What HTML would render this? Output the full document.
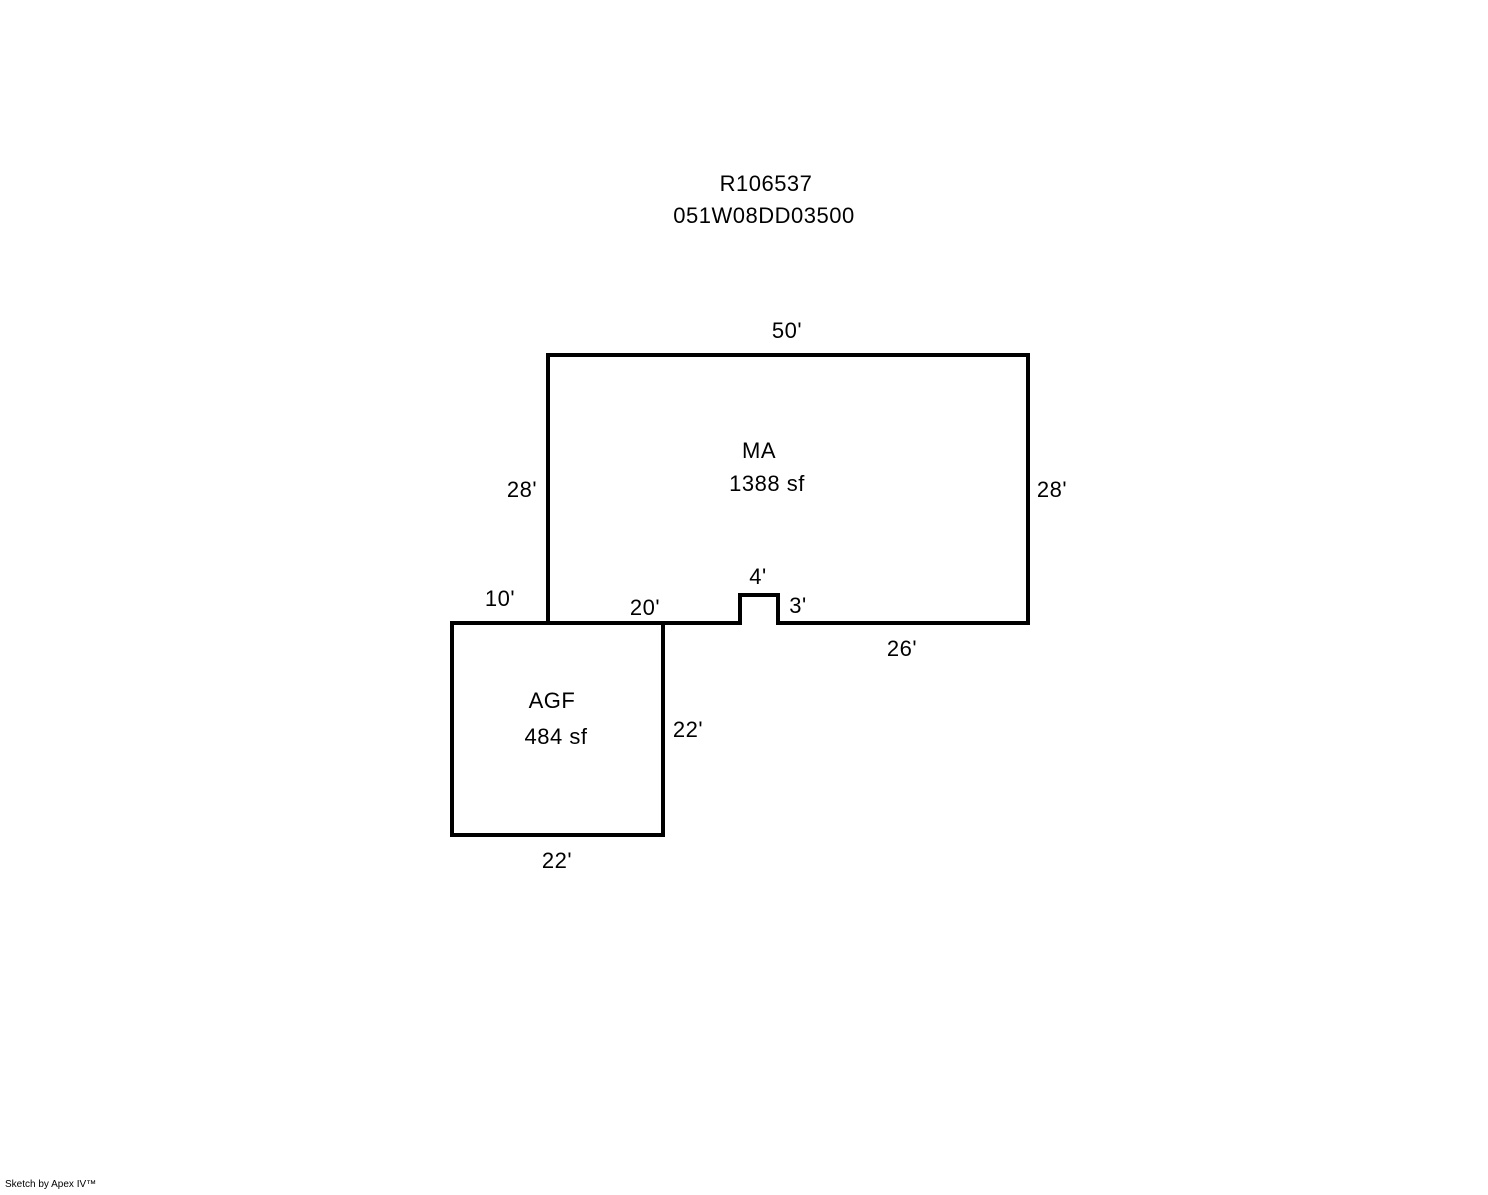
<!DOCTYPE html>
<html><head><style>
body{margin:0;background:#fff;width:1488px;height:1190px;overflow:hidden}
svg text{font-family:"Liberation Sans",Arial,sans-serif;font-size:22px;letter-spacing:0.5px;fill:#000}
</style></head><body>
<svg width="1488" height="1190" xmlns="http://www.w3.org/2000/svg">
<g fill="none" stroke="#000" stroke-width="4" stroke-linecap="square">
<path d="M548,623 L548,355 L1028,355 L1028,623 L778,623 L778,595 L740,595 L740,623 L548,623"/>
<path d="M452,623 L663,623 L663,835 L452,835 Z"/>
</g>
<text x="766" y="191" text-anchor="middle">R106537</text>
<text x="764" y="223" text-anchor="middle">051W08DD03500</text>
<text x="787" y="338" text-anchor="middle">50'</text>
<text x="759" y="458" text-anchor="middle">MA</text>
<text x="767" y="491" text-anchor="middle">1388 sf</text>
<text x="522" y="497" text-anchor="middle">28'</text>
<text x="1052" y="497" text-anchor="middle">28'</text>
<text x="758" y="584" text-anchor="middle">4'</text>
<text x="798" y="613" text-anchor="middle">3'</text>
<text x="500" y="606" text-anchor="middle">10'</text>
<text x="645" y="615" text-anchor="middle">20'</text>
<text x="902" y="656" text-anchor="middle">26'</text>
<text x="552" y="708" text-anchor="middle">AGF</text>
<text x="556" y="744" text-anchor="middle">484 sf</text>
<text x="688" y="737" text-anchor="middle">22'</text>
<text x="557" y="868" text-anchor="middle">22'</text>
<text x="5" y="1187" style="font-size:10px;letter-spacing:0">Sketch by Apex IV™</text>
</svg>
</body></html>
